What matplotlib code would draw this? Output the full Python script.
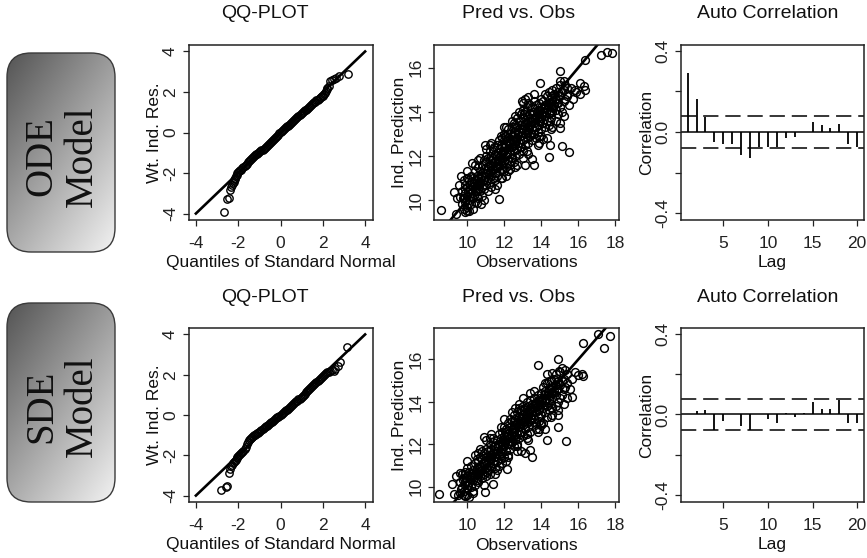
import numpy as np
import matplotlib
matplotlib.use("Agg")
import matplotlib.pyplot as plt
from matplotlib.patches import FancyBboxPatch

# ---------------- data ----------------
model_labels = ["ODE\nModel", "SDE\nModel"]
panel_titles = ["QQ-PLOT", "Pred vs. Obs", "Auto Correlation"]

# QQ plot: theoretical normal quantile, weighted individual residual
ode_qq_theor = [-2.67, -2.52, -2.44, -2.38, -2.33, -2.29, -2.25, -2.22, -2.19, -2.16, -2.13, -2.10,
                -2.07, -2.04, -2.01, -1.95, -1.90, -1.85, -1.80, -1.75, -1.70, -1.65, -1.60, -1.55,
                -1.50, -1.45, -1.40, -1.35, -1.30, -1.25, -1.20, -1.15, -1.10, -1.05, -1.00, -0.95,
                -0.90, -0.85, -0.80, -0.75, -0.70, -0.65, -0.60, -0.55, -0.50, -0.45, -0.40, -0.35,
                -0.30, -0.25, -0.20, -0.15, -0.10, -0.05, 0.00, 0.05, 0.10, 0.15, 0.20, 0.25, 0.30,
                0.35, 0.40, 0.45, 0.50, 0.55, 0.60, 0.65, 0.70, 0.75, 0.80, 0.85, 0.90, 0.95, 1.00,
                1.05, 1.10, 1.15, 1.20, 1.25, 1.30, 1.35, 1.40, 1.45, 1.50, 1.55, 1.60, 1.65, 1.70,
                1.75, 1.80, 1.85, 1.90, 1.95, 2.00, 2.05, 2.10, 2.14, 2.18, 2.22, 2.27, 2.33, 2.42,
                2.52, 2.62, 2.75, 3.17]
ode_qq_res = [-3.92, -3.26, -3.22, -2.82, -2.68, -2.58, -2.50, -2.42, -2.36, -2.30, -2.24, -2.16,
              -2.08, -2.01, -1.96, -1.91, -1.87, -1.83, -1.77, -1.71, -1.65, -1.59, -1.54, -1.48,
              -1.43, -1.37, -1.31, -1.26, -1.21, -1.17, -1.12, -1.08, -1.04, -1.00, -0.96, -0.92,
              -0.88, -0.84, -0.79, -0.75, -0.70, -0.66, -0.61, -0.56, -0.51, -0.46, -0.41, -0.36,
              -0.31, -0.25, -0.20, -0.15, -0.10, -0.04, 0.01, 0.06, 0.11, 0.16, 0.21, 0.25, 0.30,
              0.34, 0.39, 0.44, 0.48, 0.53, 0.58, 0.63, 0.67, 0.72, 0.77, 0.81, 0.86, 0.90, 0.95,
              0.99, 1.04, 1.09, 1.13, 1.17, 1.22, 1.26, 1.31, 1.35, 1.40, 1.44, 1.49, 1.53, 1.58,
              1.62, 1.66, 1.71, 1.75, 1.79, 1.82, 1.88, 1.96, 2.05, 2.14, 2.20, 2.30, 2.55, 2.60,
              2.65, 2.70, 2.78, 2.88]

sde_qq_theor = [-2.82, -2.59, -2.51, -2.42, -2.38, -2.33, -2.28, -2.24, -2.20, -2.16, -2.12, -2.08,
                -2.04, -2.00, -1.95, -1.90, -1.85, -1.80, -1.75, -1.70, -1.65, -1.60, -1.55, -1.50,
                -1.45, -1.40, -1.35, -1.30, -1.25, -1.20, -1.15, -1.10, -1.05, -1.00, -0.95, -0.90,
                -0.85, -0.80, -0.75, -0.70, -0.65, -0.60, -0.55, -0.50, -0.45, -0.40, -0.35, -0.30,
                -0.25, -0.20, -0.15, -0.10, -0.05, 0.00, 0.05, 0.10, 0.15, 0.20, 0.25, 0.30, 0.35,
                0.40, 0.45, 0.50, 0.55, 0.60, 0.65, 0.70, 0.75, 0.80, 0.85, 0.90, 0.95, 1.00, 1.05,
                1.10, 1.15, 1.20, 1.25, 1.30, 1.35, 1.40, 1.45, 1.50, 1.55, 1.60, 1.65, 1.70, 1.75,
                1.80, 1.85, 1.90, 1.95, 2.00, 2.05, 2.10, 2.15, 2.20, 2.27, 2.35, 2.45, 2.54, 2.60,
                2.74, 2.80, 3.15]
sde_qq_res = [-3.74, -3.56, -3.52, -2.88, -2.66, -2.55, -2.47, -2.40, -2.33, -2.27, -2.21, -2.15,
              -2.09, -2.03, -1.98, -1.93, -1.88, -1.83, -1.77, -1.69, -1.58, -1.45, -1.33, -1.24,
              -1.18, -1.13, -1.09, -1.05, -1.01, -0.97, -0.94, -0.91, -0.88, -0.84, -0.80, -0.76,
              -0.71, -0.66, -0.62, -0.57, -0.53, -0.49, -0.45, -0.41, -0.37, -0.33, -0.29, -0.25,
              -0.21, -0.17, -0.12, -0.08, -0.03, 0.01, 0.05, 0.09, 0.14, 0.18, 0.23, 0.27, 0.32,
              0.36, 0.41, 0.45, 0.50, 0.54, 0.59, 0.63, 0.68, 0.72, 0.77, 0.81, 0.86, 0.91, 0.96,
              1.01, 1.06, 1.12, 1.17, 1.23, 1.29, 1.34, 1.39, 1.44, 1.49, 1.55, 1.60, 1.65, 1.71,
              1.76, 1.81, 1.86, 1.91, 1.96, 2.00, 2.04, 2.08, 2.12, 2.16, 2.20, 2.25, 2.17, 2.30,
              2.45, 2.65, 3.39]

# Pred vs. Obs: (observation, individual prediction)
ode_pred_obs = [
    (9.7, 9.8), (9.7, 10.4), (9.8, 10.1), (9.8, 9.6), (9.8, 10.9), (9.9, 10.3), (9.9, 9.9),
    (10.0, 10.6), (10.0, 9.7), (10.0, 10.2), (10.0, 11.0), (10.1, 10.0), (10.1, 10.5), (10.1, 10.9),
    (10.2, 10.3), (10.2, 9.8), (10.2, 10.8), (10.2, 11.1), (10.3, 10.1), (10.3, 10.6), (10.3, 11.0),
    (10.4, 10.4), (10.4, 10.9), (10.4, 9.9), (10.4, 11.3), (10.5, 10.2), (10.5, 10.7), (10.5, 11.1),
    (10.6, 10.5), (10.6, 11.0), (10.6, 10.1), (10.6, 11.5), (10.7, 10.8), (10.7, 11.3), (10.7, 10.4),
    (10.8, 10.6), (10.8, 11.1), (10.8, 11.6), (10.8, 10.2), (10.9, 10.9), (10.9, 11.4), (10.9, 11.8),
    (10.9, 10.5), (11.0, 11.2), (11.0, 10.7), (11.0, 11.7), (11.0, 12.0), (11.1, 11.0), (11.1, 11.5),
    (11.1, 10.4), (11.1, 11.9), (11.2, 11.3), (11.2, 11.8), (11.2, 10.8), (11.2, 12.2), (11.3, 11.1),
    (11.3, 11.6), (11.3, 12.0), (11.3, 10.6), (11.4, 11.4), (11.4, 11.9), (11.4, 12.3), (11.4, 11.0),
    (11.5, 11.7), (11.5, 12.1), (11.5, 11.2), (11.5, 10.9), (11.6, 11.5), (11.6, 12.0), (11.6, 12.5),
    (11.6, 11.1), (11.7, 11.8), (11.7, 12.3), (11.7, 11.3), (11.7, 12.7), (11.8, 12.1), (11.8, 11.6),
    (11.8, 12.5), (11.8, 11.0), (11.9, 11.9), (11.9, 12.4), (11.9, 12.8), (11.9, 11.4), (12.0, 12.2),
    (12.0, 11.7), (12.0, 12.7), (12.0, 13.0), (12.0, 11.3), (12.1, 12.0), (12.1, 12.5), (12.1, 12.9),
    (12.1, 11.5), (12.2, 12.3), (12.2, 12.8), (12.2, 11.8), (12.2, 13.2), (12.3, 12.1), (12.3, 12.6),
    (12.3, 13.0), (12.3, 11.6), (12.4, 12.4), (12.4, 12.9), (12.4, 13.3), (12.4, 11.9), (12.5, 12.7),
    (12.5, 12.2), (12.5, 13.1), (12.5, 11.7), (12.5, 13.5), (12.6, 12.5), (12.6, 13.0), (12.6, 13.4),
    (12.6, 12.0), (12.7, 12.8), (12.7, 13.3), (12.7, 12.3), (12.7, 13.7), (12.8, 12.6), (12.8, 13.1),
    (12.8, 13.6), (12.8, 12.1), (12.9, 12.9), (12.9, 13.4), (12.9, 12.4), (12.9, 13.9), (13.0, 13.2),
    (13.0, 12.7), (13.0, 13.7), (13.0, 14.1), (13.0, 12.2), (13.1, 13.0), (13.1, 13.5), (13.1, 12.5),
    (13.1, 14.0), (13.2, 13.3), (13.2, 13.8), (13.2, 12.8), (13.2, 14.2), (13.3, 13.1), (13.3, 13.6),
    (13.3, 12.6), (13.3, 14.4), (13.4, 13.4), (13.4, 13.9), (13.4, 12.9), (13.5, 13.7), (13.5, 13.2),
    (13.5, 14.2), (13.5, 12.7), (13.6, 13.5), (13.6, 14.0), (13.6, 13.0), (13.7, 13.8), (13.7, 13.3),
    (13.7, 14.3), (13.7, 12.8), (13.8, 13.6), (13.8, 14.1), (13.8, 13.1), (13.9, 13.9), (13.9, 13.4),
    (13.9, 14.4), (13.9, 12.9), (14.0, 14.2), (14.0, 13.7), (14.0, 13.2), (14.0, 14.6), (14.1, 14.0),
    (14.1, 13.5), (14.1, 14.5), (14.2, 14.3), (14.2, 13.8), (14.2, 13.3), (14.3, 14.1), (14.3, 13.6),
    (14.3, 14.7), (14.4, 14.4), (14.4, 13.9), (14.4, 13.4), (14.5, 14.2), (14.5, 14.7), (14.5, 13.7),
    (14.6, 14.5), (14.6, 14.0), (14.6, 15.0), (14.7, 14.3), (14.7, 14.8), (14.8, 14.6), (14.8, 14.1),
    (14.8, 15.1), (14.9, 14.9), (14.9, 14.4), (15.0, 14.7), (15.0, 15.2), (15.0, 14.2), (15.2, 15.0),
    (15.2, 14.5), (15.4, 15.1), (15.4, 14.8),
    (9.75, 10.1), (9.85, 10.5), (9.95, 10.0), (10.05, 10.4), (10.15, 10.7), (10.25, 10.2),
    (10.35, 10.8), (10.45, 10.6), (10.55, 10.9), (10.65, 10.7), (10.75, 11.1), (10.85, 10.9),
    (10.95, 11.2), (11.05, 11.4), (11.15, 11.2), (11.25, 11.6), (11.35, 11.4), (11.45, 11.7),
    (11.55, 11.5), (11.65, 11.9), (11.75, 12.0), (11.85, 11.8), (11.95, 12.2), (12.05, 12.4),
    (12.15, 12.1), (12.25, 12.6), (12.35, 12.4), (12.45, 12.7), (12.55, 12.9), (12.65, 12.7),
    (12.75, 13.0), (12.85, 12.9), (12.95, 13.2), (13.05, 13.4), (13.15, 13.2), (13.25, 13.5),
    (13.35, 13.3), (13.45, 13.6), (13.55, 13.9), (13.65, 13.7), (13.75, 14.0), (13.85, 13.8),
    (13.95, 14.1), (14.05, 13.9), (14.15, 14.2), (14.25, 14.0), (14.35, 14.3), (14.45, 14.0),
    (14.55, 14.4), (14.65, 14.2), (14.75, 14.6), (14.85, 14.4), (14.95, 14.7), (15.10, 14.9),
    (15.30, 14.6), (11.45, 12.4), (12.05, 12.9), (12.55, 13.3), (13.05, 13.9), (12.35, 11.9),
    (12.85, 12.4), (13.45, 13.0), (13.95, 13.6), (14.45, 13.6), (10.55, 10.4), (11.05, 10.9),
    (10.0, 11.3), (10.3, 9.6), (10.6, 11.8), (10.9, 10.0), (11.2, 12.5), (11.5, 10.5), (11.8, 12.9),
    (12.1, 11.1), (12.4, 13.6), (12.7, 11.6), (13.0, 14.4), (13.3, 12.1), (13.6, 14.5), (13.9, 12.6),
    (14.2, 14.8), (14.5, 13.2), (14.8, 13.6), (15.1, 14.0), (15.3, 15.2), (9.9, 10.7), (10.4, 11.6),
    (11.0, 12.3), (11.6, 10.7), (12.2, 11.3), (12.8, 14.0), (13.4, 14.3), (14.0, 12.9), (14.6, 13.3),
    (15.2, 13.8), (10.1, 9.5), (10.7, 11.9), (12.0, 13.3), (12.6, 13.8), (13.2, 12.2), (13.8, 12.5),
    (14.4, 14.9), (15.0, 15.4), (14.9, 13.9), (11.3, 12.6), (11.9, 11.0),
    (8.59, 9.53), (9.37, 9.38), (9.30, 10.38), (9.68, 11.09), (9.55, 10.70), (9.60, 10.15),
    (9.45, 10.10), (10.27, 11.67), (10.93, 12.49), (10.72, 9.80), (11.73, 10.06), (10.50, 9.85),
    (9.90, 9.45), (10.00, 9.50), (13.91, 15.30), (12.93, 14.47), (13.10, 14.56), (13.62, 14.80),
    (13.30, 14.65), (15.00, 15.86), (14.40, 11.97), (15.10, 12.43), (15.50, 12.19), (15.00, 13.50),
    (15.00, 13.26), (13.62, 11.59), (13.50, 11.85), (13.14, 11.57), (14.46, 12.49), (14.30, 12.80),
    (14.10, 12.75), (17.24, 16.59), (17.53, 16.71), (17.82, 16.68), (16.38, 16.35), (16.10, 15.30),
    (16.30, 15.15), (16.38, 14.98), (16.07, 14.80), (15.70, 14.57), (15.50, 14.30), (15.20, 15.40),
    (15.40, 14.70), (15.80, 15.00), (15.60, 15.10), (15.90, 14.90), (11.73, 11.77), (11.60, 11.53),
    (12.30, 11.40), (12.60, 11.50), (13.00, 11.90), (12.10, 13.30),
]

sde_pred_obs = [
    (9.6, 9.7), (9.6, 10.2), (9.7, 10.0), (9.7, 10.6), (9.8, 9.8), (9.8, 10.4), (9.8, 9.6),
    (9.9, 10.1), (9.9, 10.7), (10.0, 9.9), (10.0, 10.5), (10.0, 10.9), (10.0, 9.6), (10.1, 10.2),
    (10.1, 10.7), (10.2, 10.0), (10.2, 10.5), (10.2, 11.0), (10.3, 10.3), (10.3, 10.8), (10.3, 9.8),
    (10.4, 10.6), (10.4, 11.1), (10.4, 10.1), (10.5, 10.4), (10.5, 10.9), (10.5, 11.3), (10.6, 10.7),
    (10.6, 11.2), (10.6, 10.2), (10.7, 10.5), (10.7, 11.0), (10.7, 11.4), (10.8, 10.8), (10.8, 11.3),
    (10.8, 10.4), (10.8, 11.7), (10.9, 11.1), (10.9, 10.6), (10.9, 11.6), (11.0, 10.9), (11.0, 11.4),
    (11.0, 11.8), (11.0, 10.5), (11.1, 11.2), (11.1, 11.7), (11.1, 10.8), (11.2, 11.0), (11.2, 11.5),
    (11.2, 12.0), (11.2, 10.6), (11.3, 11.3), (11.3, 11.8), (11.3, 10.9), (11.4, 11.6), (11.4, 11.1),
    (11.4, 12.1), (11.4, 12.3), (11.5, 11.4), (11.5, 11.9), (11.5, 10.9), (11.6, 11.7), (11.6, 12.2),
    (11.6, 11.2), (11.7, 11.5), (11.7, 12.0), (11.7, 12.5), (11.7, 11.0), (11.8, 11.8), (11.8, 12.3),
    (11.8, 11.3), (11.9, 12.1), (11.9, 11.6), (11.9, 12.6), (12.0, 11.9), (12.0, 12.4), (12.0, 12.8),
    (12.0, 11.4), (12.1, 12.2), (12.1, 12.7), (12.1, 11.7), (12.2, 12.0), (12.2, 12.5), (12.2, 13.0),
    (12.2, 11.5), (12.3, 12.3), (12.3, 12.8), (12.3, 11.8), (12.3, 13.2), (12.4, 12.6), (12.4, 12.1),
    (12.4, 13.1), (12.5, 12.4), (12.5, 12.9), (12.5, 13.4), (12.5, 11.9), (12.6, 12.7), (12.6, 13.2),
    (12.6, 12.2), (12.7, 12.5), (12.7, 13.0), (12.7, 13.5), (12.7, 12.0), (12.8, 12.8), (12.8, 13.3),
    (12.8, 12.3), (12.8, 13.7), (12.9, 13.1), (12.9, 12.6), (12.9, 13.6), (13.0, 12.9), (13.0, 13.4),
    (13.0, 13.8), (13.0, 12.4), (13.1, 13.2), (13.1, 13.7), (13.1, 12.7), (13.2, 13.0), (13.2, 13.5),
    (13.2, 14.0), (13.2, 12.5), (13.3, 13.3), (13.3, 13.8), (13.3, 12.8), (13.4, 13.6), (13.4, 13.1),
    (13.4, 14.1), (13.4, 12.6), (13.5, 13.4), (13.5, 13.9), (13.5, 12.9), (13.6, 13.7), (13.6, 13.2),
    (13.6, 14.2), (13.7, 13.5), (13.7, 14.0), (13.7, 13.0), (13.7, 12.7), (13.8, 13.8), (13.8, 13.3),
    (13.8, 14.3), (13.9, 13.6), (13.9, 14.1), (13.9, 13.1), (14.0, 13.9), (14.0, 14.4), (14.0, 13.4),
    (14.0, 12.9), (14.1, 14.2), (14.1, 13.7), (14.1, 14.7), (14.2, 14.0), (14.2, 13.5), (14.2, 14.5),
    (14.3, 14.3), (14.3, 13.8), (14.3, 13.3), (14.3, 14.9), (14.4, 14.1), (14.4, 14.6), (14.4, 13.6),
    (14.5, 14.4), (14.5, 13.9), (14.5, 15.0), (14.6, 14.7), (14.6, 14.2), (14.6, 13.7), (14.7, 14.5),
    (14.7, 15.1), (14.8, 14.8), (14.8, 14.3), (14.8, 15.3), (14.9, 15.0), (14.9, 14.6), (15.0, 14.8),
    (15.0, 15.4), (15.0, 14.2), (15.2, 15.1), (15.2, 14.6), (15.4, 15.3), (15.4, 14.9),
    (9.65, 9.9), (9.75, 10.3), (9.85, 10.2), (9.95, 10.4), (10.05, 10.1), (10.15, 10.5),
    (10.25, 10.6), (10.35, 10.5), (10.45, 10.8), (10.55, 10.6), (10.65, 10.9), (10.75, 10.8),
    (10.85, 11.1), (10.95, 11.2), (11.05, 11.1), (11.15, 11.4), (11.25, 11.3), (11.35, 11.5),
    (11.45, 11.4), (11.55, 11.7), (11.65, 11.9), (11.75, 11.7), (11.85, 12.0), (11.95, 12.2),
    (12.05, 12.1), (12.15, 12.4), (12.25, 12.3), (12.35, 12.5), (12.45, 12.7), (12.55, 12.6),
    (12.65, 12.9), (12.75, 12.8), (12.85, 13.0), (12.95, 13.2), (13.05, 13.1), (13.15, 13.4),
    (13.25, 13.3), (13.35, 13.5), (13.45, 13.7), (13.55, 13.6), (13.65, 13.9), (13.75, 13.8),
    (13.85, 14.0), (13.95, 14.2), (14.05, 14.1), (14.15, 14.3), (14.25, 14.1), (14.35, 14.5),
    (14.45, 14.3), (14.55, 14.6), (14.65, 14.4), (14.75, 14.8), (14.85, 14.6), (14.95, 14.9),
    (15.10, 15.0), (15.30, 14.7), (11.45, 11.9), (12.05, 12.6), (12.55, 13.1), (13.05, 13.6),
    (12.35, 12.0), (12.85, 12.5), (13.45, 13.2), (13.95, 13.7), (10.55, 10.3), (11.05, 10.7),
    (10.0, 11.2), (10.3, 9.7), (10.6, 11.6), (10.9, 10.1), (11.2, 12.3), (11.5, 10.6), (11.8, 12.8),
    (12.1, 11.2), (12.4, 13.5), (12.7, 11.7), (13.0, 14.2), (13.3, 12.2), (13.6, 14.5), (13.9, 12.7),
    (14.2, 14.9), (14.5, 13.3), (14.8, 13.8), (15.1, 14.3), (15.3, 15.5), (9.9, 10.6), (10.4, 11.5),
    (11.0, 12.2), (11.6, 10.8), (12.2, 11.4), (12.8, 13.9), (13.4, 14.4), (14.0, 13.0), (14.6, 13.4),
    (15.2, 13.9), (10.7, 11.8), (12.0, 13.2), (12.6, 13.7), (13.2, 12.3), (13.8, 12.6), (14.4, 15.0),
    (14.9, 14.0), (11.3, 12.5), (11.9, 11.1),
    (8.49, 9.67), (9.19, 10.13), (9.26, 9.68), (9.39, 10.50), (9.60, 10.65), (9.50, 9.60),
    (9.85, 9.55), (10.10, 9.50), (10.92, 12.36), (12.13, 10.82), (10.95, 9.75), (11.37, 10.15),
    (13.80, 15.74), (14.88, 16.04), (14.98, 15.47), (14.60, 15.35), (14.30, 15.30), (13.50, 11.42),
    (14.30, 12.20), (14.90, 12.80), (15.35, 12.14), (14.88, 13.60), (14.88, 13.37), (16.25, 16.79),
    (17.08, 17.22), (17.71, 17.10), (17.40, 16.52), (16.18, 15.30), (16.25, 15.20), (16.00, 15.25),
    (15.65, 15.10), (15.55, 14.60), (15.65, 14.22), (15.40, 14.20), (15.80, 15.40), (13.10, 11.60),
    (13.40, 11.73), (12.90, 11.70), (12.70, 11.90), (14.20, 12.70), (14.10, 13.00), (15.10, 15.60),
]

# Auto correlation of residuals, lags 1..20
acf_lags = list(range(1, 21))
ode_acf = [0.289, 0.162, 0.072, -0.049, -0.057, -0.057, -0.111, -0.130, -0.075, -0.075,
           -0.075, -0.028, -0.026, 0.000, 0.049, 0.033, 0.021, 0.039, -0.057, -0.075]
sde_acf = [0.000, 0.016, 0.021, -0.079, -0.031, 0.002, -0.056, -0.079, 0.000, -0.020,
           -0.040, 0.005, -0.010, 0.008, 0.061, 0.028, 0.028, 0.071, -0.040, -0.040]
acf_bound = 0.079

# ---------------- figure ----------------
W, H = 867, 558
plt.rcParams['font.family'] = ['Liberation Sans', 'DejaVu Sans']
fig = plt.figure(figsize=(W / 100, H / 100), dpi=100)


def rect(x0, y0, x1, y1):
    return [x0 / W, 1 - y1 / H, (x1 - x0) / W, (y1 - y0) / H]


col_x = [(188.5, 372.5), (434, 619), (681, 864)]
row_y = [(45, 220), (328, 502)]
title_cx = [265, 519, 768]
title_y = [14, 297]
box_rects = [(7, 53, 115, 252), (7, 303, 115, 502)]

# background / gradient boxes
bg = fig.add_axes([0, 0, 1, 1], zorder=0)
bg.axis('off')
dark, light = 0.33, 0.95
for (x0, y0, x1, y1), lab in zip(box_rects, model_labels):
    patch = FancyBboxPatch((x0, y0), x1 - x0, y1 - y0,
                           boxstyle="round,pad=0,rounding_size=24",
                           fc='none', ec='#3a3a3a', lw=1.0, zorder=3)
    bg.add_patch(patch)
    u = np.linspace(0, 1, 120)
    v = np.linspace(0, 1, 220)
    U, V = np.meshgrid(u, v)
    t = 0.45 * U + 0.55 * V
    c = dark + (light - dark) * t
    img = np.dstack([c, c, c])
    im = bg.imshow(img, extent=(x0, x1, y1, y0), origin='upper', aspect='auto',
                   interpolation='bilinear', zorder=2)
    im.set_clip_path(patch)
    bg.text((x0 + x1) / 2 + 1, (y0 + y1) / 2 + 4, lab, rotation=90, ha='center', va='center',
            ma='center', fontsize=28, family='Liberation Serif', color='#111111', zorder=4,
            linespacing=1.12)
bg.set_xlim(0, W)
bg.set_ylim(H, 0)

for r in range(2):
    for c in range(3):
        fig.text(title_cx[c] / W, 1 - title_y[r] / H, panel_titles[c], ha='center', va='center',
                 fontsize=14, color='#111111')


def style(ax, xlabel, ylabel):
    for s in ax.spines.values():
        s.set_linewidth(1.1)
        s.set_color('#222222')
    ax.tick_params(direction='out', length=4.5, width=0.9, labelsize=12.5, colors='#222222')
    ax.tick_params(axis='x', pad=7)
    ax.tick_params(axis='y', pad=3)
    ax.set_xlabel(xlabel, fontsize=12.5, color='#111111')
    ax.set_ylabel(ylabel, fontsize=12.5, color='#111111')
    bb = ax.get_position()
    hpx = bb.height * H
    wpx = bb.width * W
    ax.xaxis.set_label_coords(0.5, -43 / hpx)
    ax.xaxis.label.set_verticalalignment('center')
    ax.yaxis.set_label_coords(-34 / wpx, 0.5)
    ax.yaxis.label.set_verticalalignment('center')


qq_data = [(ode_qq_theor, ode_qq_res), (sde_qq_theor, sde_qq_res)]
po_data = [ode_pred_obs, sde_pred_obs]
acf_data = [ode_acf, sde_acf]
po_ylims = [(9.09, 17.03), (9.28, 17.48)]

for r in range(2):
    y0, y1 = row_y[r]
    # QQ plot
    ax = fig.add_axes(rect(col_x[0][0], y0, col_x[0][1], y1))
    th, rs = qq_data[r]
    ax.plot(th, rs, 'o', mfc='none', mec='black', ms=5.3, mew=1.0)
    ax.plot([-4, 4], [-4, 4], color='black', lw=1.9)
    ax.set_xlim(-4.35, 4.35)
    ax.set_ylim(-4.32, 4.32)
    ax.set_xticks([-4, -2, 0, 2, 4], ['-4', '-2', '0', '2', '4'])
    ax.set_yticks([-4, -2, 0, 2, 4], ['-4', '-2', '0', '2', '4'], rotation=90, va='center')
    style(ax, 'Quantiles of Standard Normal', 'Wt. Ind. Res.')

    # Pred vs Obs
    ax = fig.add_axes(rect(col_x[1][0], y0, col_x[1][1], y1))
    obs = [p[0] for p in po_data[r]]
    pred = [p[1] for p in po_data[r]]
    ax.plot(obs, pred, 'o', mfc='none', mec='black', ms=5.6, mew=1.05)
    ax.axline((10, 10), slope=1, color='black', lw=1.9)
    ax.set_xlim(8.2, 18.2)
    ax.set_ylim(*po_ylims[r])
    ax.set_xticks([10, 12, 14, 16, 18], ['10', '12', '14', '16', '18'])
    ax.set_yticks([10, 12, 14, 16], ['10', '12', '14', '16'], rotation=90, va='center')
    style(ax, 'Observations', 'Ind. Prediction')

    # ACF
    ax = fig.add_axes(rect(col_x[2][0], y0, col_x[2][1], y1))
    ax.vlines(acf_lags, 0, acf_data[r], color='black', lw=1.3)
    ax.axhline(0, color='black', lw=1.1)
    for b in (acf_bound, -acf_bound):
        ax.axhline(b, color='black', lw=1.1, linestyle=(0, (10, 4.5)))
    ax.set_xlim(0.26, 20.76)
    ax.set_ylim(-0.433, 0.428)
    ax.set_xticks([5, 10, 15, 20], ['5', '10', '15', '20'])
    ax.set_yticks([-0.4, -0.2, 0.0, 0.2, 0.4], ['-0.4', '', '0.0', '', '0.4'], rotation=90, va='center')
    style(ax, 'Lag', 'Correlation')

fig.savefig('out.png', dpi=100)
